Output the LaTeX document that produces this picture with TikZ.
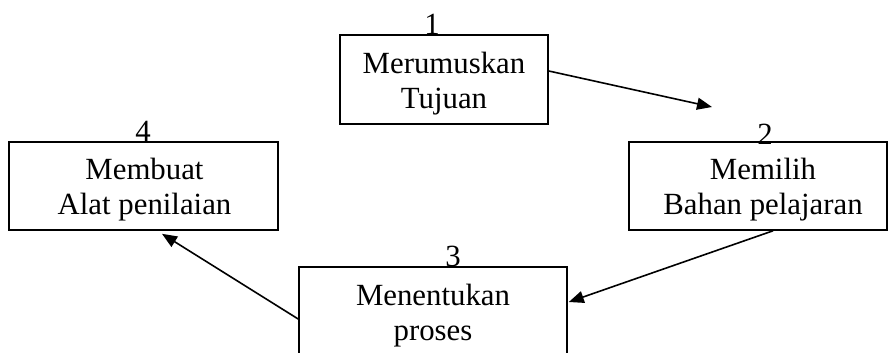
\documentclass[tikz,border=0pt]{standalone}
\usepackage{fontspec}
\setmainfont{Liberation Serif}
\usetikzlibrary{arrows.meta}
\tikzset{
  box/.style={draw=black, line width=1.6bp, fill=white, inner sep=0pt},
  txt/.style={align=center, inner sep=0pt, font=\fontsize{30.8bp}{35bp}\selectfont},
  num/.style={anchor=base, inner sep=0pt, font=\fontsize{30.8bp}{35bp}\selectfont},
  arr/.style={line width=1.6bp, -{Triangle[length=15bp,width=12bp]}}
}
\begin{document}
\begin{tikzpicture}[x=1bp,y=-1bp]
\useasboundingbox (0,0) rectangle (889,352);
% numbers (drawn first so boxes may overlap them)
\node[box, minimum width=208bp, minimum height=89bp] (b1) at (444,79.5) {};
\node[box, minimum width=269bp, minimum height=88bp] (b4) at (143.5,186) {};
\node[box, minimum width=258bp, minimum height=88bp] (b2) at (758,186) {};
\node[box, minimum width=268bp, minimum height=89bp] (b3) at (433,311.5) {};
\node[num] (n1) at ([xshift=-12bp]b1.north) {1};
\node[num] (n4) at ([xshift=-0.5bp]b4.north) {4};
\node[num] (n2) at ([xshift=7bp,yshift=-3bp]b2.north) {2};
\node[num] (n3) at ([xshift=20bp]b3.north) {3};
\node[txt] (t1) at ([yshift=-4bp]b1.center) {\strut Merumuskan\\\strut Tujuan};
\node[txt] (t4) at ([xshift=1bp,yshift=-4bp]b4.center) {\strut Membuat\\\strut Alat penilaian};
\node[txt] (t2) at ([xshift=5bp,yshift=-4bp]b2.center) {\strut Memilih\\\strut Bahan pelajaran};
\node[txt] (t3) at ([yshift=-4bp]b3.center) {\strut Menentukan\\\strut proses};
\coordinate (e1) at (712,107);
\draw[arr] ([yshift=8.5bp]b1.east) -- (e1);
\draw[arr] ([xshift=15bp]b2.south) -- ([xshift=1bp,yshift=9.5bp]b3.east);
\draw[arr] ([yshift=-7.5bp]b3.west) -- ([xshift=18.5bp,yshift=-3bp]b4.south);
\end{tikzpicture}
\end{document}
